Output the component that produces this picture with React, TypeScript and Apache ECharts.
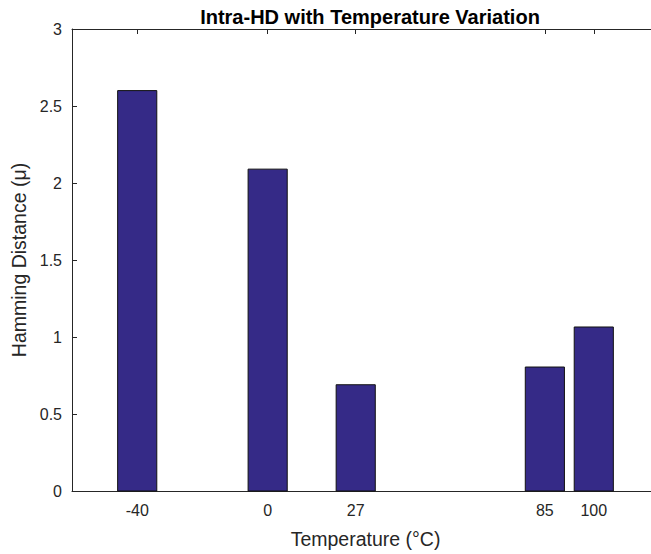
import React, { useEffect, useRef } from "react";
import * as echarts from "echarts";

const temperatures = [-40, 0, 27, 85, 100];
const hdValues = [2.6, 2.09, 0.69, 0.805, 1.065];
const xTickValues = [-40, 0, 27, 85, 100];
const barWidthUnits = 12;

export default function App() {
  const ref = useRef<HTMLDivElement>(null);
  useEffect(() => {
    if (!ref.current) return;
    const chart = echarts.init(ref.current, null, { renderer: "svg" });
    const axisColor = "#262626";
    const font = "Liberation Sans, Arial, Helvetica, sans-serif";
    chart.setOption({
      animation: false,
      backgroundColor: "#ffffff",
      title: {
        text: "Intra-HD with Temperature Variation",
        left: 365,
        top: 2,
        textAlign: "center",
        textStyle: { fontFamily: font, fontSize: 20, fontWeight: "bold", color: "#000" },
      },
      grid: { left: 72, top: 29, width: 587, height: 462, outerBoundsMode: "none", containLabel: false },
      xAxis: [
        {
          type: "value",
          min: -60,
          max: 120,
          position: "bottom",
          name: "Temperature (°C)",
          nameLocation: "middle",
          nameGap: 38,
          nameTextStyle: { fontFamily: font, fontSize: 19.5, color: axisColor },
          axisLine: { show: true, onZero: false, lineStyle: { color: axisColor, width: 1 } },
          axisTick: { show: true, inside: true, length: 5, customValues: xTickValues, lineStyle: { color: axisColor } },
          axisLabel: { customValues: xTickValues, fontFamily: font, fontSize: 16, color: axisColor, margin: 11 },
          splitLine: { show: false },
        },
        {
          type: "value",
          min: -60,
          max: 120,
          position: "top",
          axisLine: { show: true, onZero: false, lineStyle: { color: axisColor, width: 1 } },
          axisTick: { show: true, inside: true, length: 5, customValues: xTickValues, lineStyle: { color: axisColor } },
          axisLabel: { show: false },
          splitLine: { show: false },
        },
      ],
      yAxis: {
        type: "value",
        min: 0,
        max: 3,
        interval: 0.5,
        name: "Hamming Distance (μ)",
        nameLocation: "middle",
        nameGap: 40,
        nameRotate: 90,
        nameTextStyle: { fontFamily: font, fontSize: 19.5, color: axisColor },
        axisLine: { show: true, onZero: false, lineStyle: { color: axisColor, width: 1 } },
        axisTick: { show: true, inside: true, length: 5, lineStyle: { color: axisColor } },
        axisLabel: { fontFamily: font, fontSize: 16, color: axisColor, margin: 10, formatter: (v: number) => String(v) },
        splitLine: { show: false },
      },
      series: [
        {
          type: "custom",
          xAxisIndex: 0,
          data: temperatures.map((t, i) => [t, hdValues[i]]),
          encode: { x: 0, y: 1 },
          renderItem: (params: any, api: any) => {
            const x = api.value(0);
            const y = api.value(1);
            const topLeft = api.coord([x - barWidthUnits / 2, y]);
            const bottomRight = api.coord([x + barWidthUnits / 2, 0]);
            return {
              type: "rect",
              shape: {
                x: topLeft[0],
                y: topLeft[1],
                width: bottomRight[0] - topLeft[0],
                height: bottomRight[1] - topLeft[1],
              },
              style: { fill: "#352a87", stroke: "#111111", lineWidth: 1 },
            };
          },
        },
      ],
    });
    return () => chart.dispose();
  }, []);
  return <div ref={ref} style={{ position: "fixed", left: 0, top: 0, width: 651, height: 554 }} />;
}
